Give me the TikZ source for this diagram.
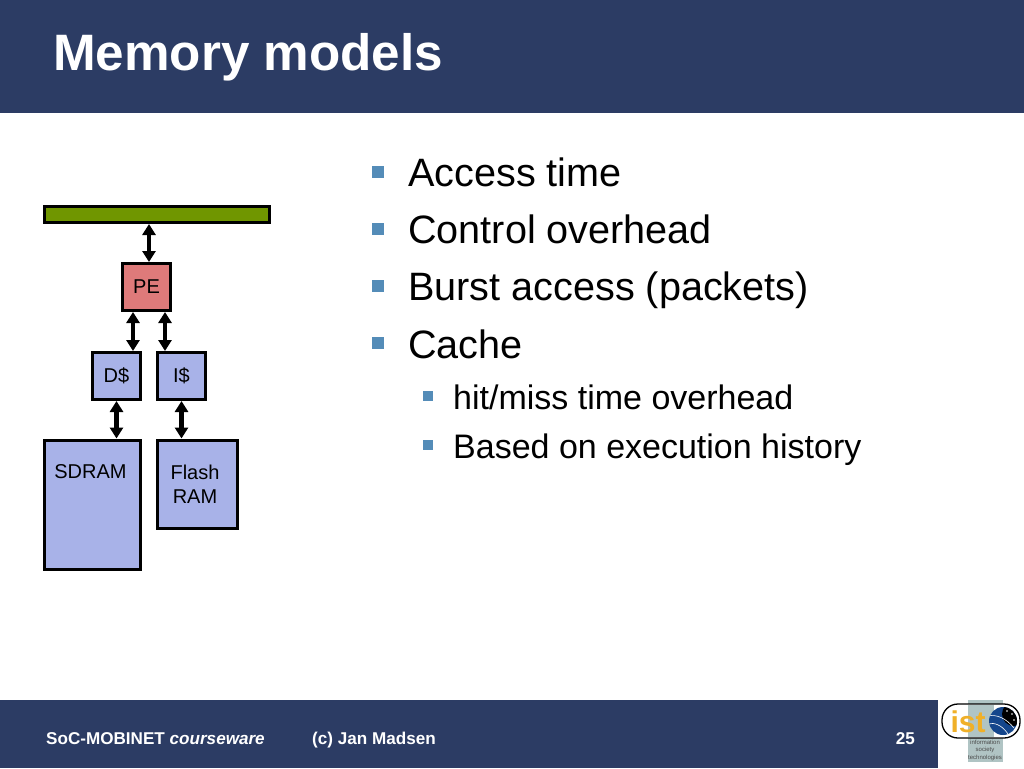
\documentclass[tikz,border=0pt]{standalone}
\usepackage{fontspec}
\setmainfont{Liberation Sans}
\usetikzlibrary{arrows.meta}
\definecolor{navy}{RGB}{44,60,100}
\definecolor{busgreen}{RGB}{112,150,0}
\definecolor{pered}{RGB}{222,122,122}
\definecolor{memblue}{RGB}{168,178,232}
\definecolor{bullet}{RGB}{84,140,184}
\definecolor{logogray}{RGB}{176,196,196}
\definecolor{logoorange}{RGB}{240,176,40}
\definecolor{globeblue}{RGB}{20,70,140}
\tikzset{
  x=1pt,y=-1pt,
  block/.style={draw=black,line width=3pt,inner sep=0pt,align=center,text=black,font=\fontsize{20}{24}\selectfont},
  link/.style={line width=4.5pt,{Triangle[length=11pt,width=13pt]}-{Triangle[length=11pt,width=13pt]}},
  bul/.style={fill=bullet,inner sep=0pt},
  lvlone/.style={anchor=base west,inner sep=0pt,font=\fontsize{39.6}{42}\selectfont,text=black},
  lvltwo/.style={anchor=base west,inner sep=0pt,font=\fontsize{34}{38}\selectfont,text=black},
  foot/.style={anchor=base west,inner sep=0pt,text=white,font=\fontsize{17.1}{19}\selectfont\bfseries},
}
\begin{document}
\begin{tikzpicture}
\useasboundingbox (0,0) rectangle (1024,768);
\fill[white] (0,0) rectangle (1024,768);
\fill[navy] (0,0) rectangle (1024,112.5);
\fill[navy] (0,699.5) rectangle (938,768);
\node[anchor=base west,inner sep=0pt,text=white,font=\fontsize{51.2}{54}\selectfont\bfseries] (title) at (53,70.5) {Memory models};

% diagram
\node[block,fill=busgreen,minimum width=225pt,minimum height=16pt] (bus) at (157,214.5) {};
\node[block,fill=pered,minimum width=48pt,minimum height=47pt] (pe) at (146.5,287) {PE};
\node[block,fill=memblue,minimum width=48pt,minimum height=47pt] (d) at (116.5,376) {D\$};
\node[block,fill=memblue,minimum width=48pt,minimum height=47pt] (i) at (181.5,376) {I\$};
\node[block,fill=memblue,minimum width=96pt,minimum height=129pt] (sdram) at (92.5,504.5) {};
\node[block,fill=memblue,minimum width=80pt,minimum height=88pt] (flash) at (197.5,484) {};
\node[anchor=center,inner sep=0pt,font=\fontsize{20}{24}\selectfont] (sdramt) at (90.5,472) {SDRAM};
\node[anchor=north,inner sep=0pt,align=center,font=\fontsize{20}{24}\selectfont] (flasht) at (195,465) {Flash\\RAM};
\draw[link] (bus.south -| 149,0) -- (pe.north -| 149,0);
\draw[link] (pe.south -| 133,0) -- (d.north -| 133,0);
\draw[link] (pe.south -| 165,0) -- (i.north -| 165,0);
\draw[link] (d.south) -- (sdram.north -| d.south);
\draw[link] (i.south) -- (flash.north -| i.south);

% bullets
\node[bul,minimum width=12pt,minimum height=12pt] (b1) at (378,171.5) {};
\node[bul,minimum width=12pt,minimum height=12pt] (b2) at (378,229) {};
\node[bul,minimum width=12pt,minimum height=12pt] (b3) at (378,286) {};
\node[bul,minimum width=12pt,minimum height=12pt] (b4) at (378,343) {};
\node[bul,minimum width=10pt,minimum height=10pt] (b5) at (428,396) {};
\node[bul,minimum width=10pt,minimum height=10pt] (b6) at (428,445) {};
\node[lvlone] (t1) at (408,186) {Access time};
\node[lvlone] (t2) at (408,243) {Control overhead};
\node[lvlone] (t3) at (408,300) {Burst access (packets)};
\node[lvlone] (t4) at (408,358) {Cache};
\node[lvltwo] (t5) at (453,409) {hit/miss time overhead};
\node[lvltwo] (t6) at (453,458) {Based on execution history};

% footer
\node[foot] (f1) at (46,744) {SoC-MOBINET \textit{courseware}};
\node[foot] (f2) at (312,744) {(c) Jan Madsen};
\node[foot,anchor=base east] (f3) at (915,744) {25};

% logo
\fill[logogray] (968,700) rectangle (1003,762);
\draw[black,line width=1.3pt,fill=white,rounded corners=16pt] (942,704) rectangle (1020,738);
\fill[logogray] (968,705) rectangle (994,737);
\fill[globeblue] (1003,721) circle (14pt);
\begin{scope}
\clip (1003,721) circle (14pt);
\fill[black] (1014,714) circle (12pt);
\draw[white,line width=0.6pt] (988,716) .. controls (996,714) and (1006,718) .. (1014,728);
\draw[white,line width=0.6pt] (988,724) .. controls (994,722) and (1002,725) .. (1008,734);
\end{scope}
\fill[white] (1007,711) circle (0.9pt) (1012,714) circle (0.9pt) (1014,720) circle (0.9pt);
\node[inner sep=0pt,text=logoorange,font=\fontsize{30}{30}\selectfont\bfseries,anchor=base] (ist) at (968,732) {ist};
\node[inner sep=0pt,align=center,text=black!70,font=\fontsize{6}{7.4}\selectfont,anchor=north] (logotext) at (985,740) {information\\society\\technologies};
\end{tikzpicture}
\end{document}
